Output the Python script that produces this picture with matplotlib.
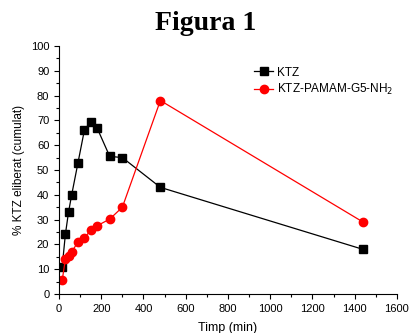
import matplotlib
matplotlib.use("Agg")
import matplotlib.pyplot as plt
from matplotlib.ticker import MultipleLocator

plt.rcParams['font.family'] = ['Liberation Sans', 'DejaVu Sans']

t_ktz = [15, 30, 45, 60, 90, 120, 150, 180, 240, 300, 480, 1440]
ktz = [11, 24, 33, 40, 53, 66, 69.5, 67, 55.5, 55, 43, 18]
t_pamam = [15, 30, 45, 60, 90, 120, 150, 180, 240, 300, 480, 1440]
pamam = [5.5, 14, 15.5, 17, 21, 22.5, 25.8, 27.5, 30.2, 35, 78, 29]

fig = plt.figure(figsize=(4.11, 3.33), dpi=100)
ax = fig.add_axes([0.1436, 0.117, 0.822, 0.745])

ax.plot(t_ktz, ktz, color='black', lw=0.9, marker='s', ms=5.5, label='KTZ')
ax.plot(t_pamam, pamam, color='red', lw=0.9, marker='o', ms=6, label='KTZ-PAMAM-G5-NH$_2$')

ax.set_xlim(0, 1600)
ax.set_ylim(0, 100)
ax.xaxis.set_major_locator(MultipleLocator(200))
ax.xaxis.set_minor_locator(MultipleLocator(100))
ax.yaxis.set_major_locator(MultipleLocator(10))
ax.yaxis.set_minor_locator(MultipleLocator(5))
ax.tick_params(labelsize=8, direction='out', length=3.5, width=0.8)
ax.tick_params(which='minor', length=2, width=0.8)
ax.spines['top'].set_visible(False)
ax.spines['right'].set_visible(False)

ax.set_xlabel('Timp (min)', fontsize=9, labelpad=6)
ax.set_ylabel('% KTZ eliberat (cumulat)', fontsize=8.5, labelpad=4)

ax.legend(loc='upper right', bbox_to_anchor=(1.02, 0.96), frameon=False,
          fontsize=8.5, handlelength=1.6, handletextpad=0.3, labelspacing=0.3)

fig.text(0.5, 0.93, 'Figura 1', ha='center', va='center', fontsize=20,
         fontweight='bold', family='Liberation Serif')

fig.savefig('out.png', dpi=100)
